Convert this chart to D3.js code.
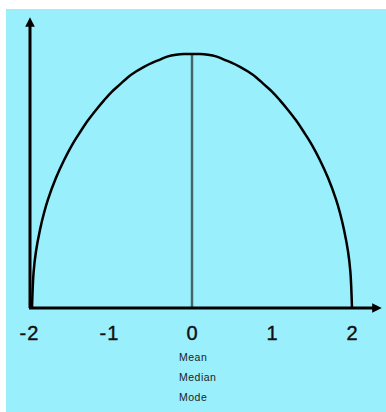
<!DOCTYPE html>
<html>
<head>
<meta charset="utf-8">
<script src="https://cdn.jsdelivr.net/npm/d3@7"></script>
<style>
  body { margin: 0; background: #fff; }
  svg { display: block; }
</style>
</head>
<body>
<svg id="chart" width="386" height="412"></svg>
<script>
// values, left half then right half
var curveX = [-2, -1.98, -1.95, -1.9, -1.85, -1.8, -1.7, -1.6, -1.5, -1.4, -1.3, -1.2, -1.1,
              -1, -0.9, -0.8, -0.7, -0.6, -0.5, -0.4, -0.3, -0.2, -0.1, 0,
              0.1, 0.2, 0.3, 0.4, 0.5, 0.6, 0.7, 0.8, 0.9, 1,
              1.1, 1.2, 1.3, 1.4, 1.5, 1.6, 1.7, 1.8, 1.85, 1.9, 1.95, 1.98, 2]
var curveY = [0, 0.045, 0.071, 0.098, 0.119, 0.136, 0.163, 0.185, 0.204, 0.220, 0.235, 0.248, 0.260,
              0.271, 0.280, 0.289, 0.296, 0.302, 0.307, 0.311, 0.315, 0.317, 0.318, 0.318,
              0.318, 0.317, 0.315, 0.311, 0.307, 0.302, 0.296, 0.289, 0.280, 0.271,
              0.260, 0.248, 0.235, 0.220, 0.204, 0.185, 0.163, 0.136, 0.119, 0.098, 0.071, 0.045, 0]
var tickValues = [-2, -1, 0, 1, 2]
var centreLabels = ["Mean", "Median", "Mode"]
var centreValue = 0

var svg = d3.select("#chart")

// light cyan panel
svg.append("rect")
    .attr("x", 6).attr("y", 9)
    .attr("width", 380).attr("height", 403)
    .attr("fill", "#9aeffc")

var x = d3.scaleLinear().domain([-2, 2]).range([32, 352])
var y = d3.scaleLinear().domain([0, 0.318]).range([308, 54])

var defs = svg.append("defs")
defs.append("marker")
    .attr("id", "arrow")
    .attr("viewBox", "0 0 10 10")
    .attr("refX", 5).attr("refY", 5)
    .attr("markerWidth", 3.2).attr("markerHeight", 3.2)
    .attr("orient", "auto")
  .append("path")
    .attr("d", "M0,0 L10,5 L0,10 z")
    .attr("fill", "#000")

// mean / median / mode line
svg.append("line")
    .attr("x1", x(centreValue)).attr("x2", x(centreValue))
    .attr("y1", y(d3.max(curveY))).attr("y2", y(0))
    .attr("stroke", "#47666b")
    .attr("stroke-width", 2.5)

// the curve
var points = curveX.map(function(d, i) { return [d, curveY[i]] })
svg.append("path")
    .datum(points)
    .attr("d", d3.line()
        .x(function(d) { return x(d[0]) })
        .y(function(d) { return y(d[1]) })
        .curve(d3.curveCatmullRom.alpha(0.5)))
    .attr("fill", "none")
    .attr("stroke", "#000")
    .attr("stroke-width", 2.5)
    .attr("stroke-linejoin", "round")

// axes with arrows
svg.append("line")
    .attr("x1", 30).attr("y1", y(0))
    .attr("x2", 30).attr("y2", 22)
    .attr("stroke", "#000").attr("stroke-width", 3)
    .attr("marker-end", "url(#arrow)")

svg.append("line")
    .attr("x1", 29).attr("y1", y(0))
    .attr("x2", 377).attr("y2", y(0))
    .attr("stroke", "#000").attr("stroke-width", 3)
    .attr("marker-end", "url(#arrow)")

// tick labels
var axis = svg.append("g")
    .attr("transform", "translate(0," + y(0) + ")")
    .call(d3.axisBottom(x).tickValues(tickValues).tickSize(0).tickPadding(0)
        .tickFormat(function(d) { return d < 0 ? "-" + Math.abs(d) : d }))
axis.select(".domain").remove()
axis.selectAll("text")
    .attr("y", 32)
    .attr("dy", 0)
    .attr("dx", function(d) { return d < 0 ? -3 : 0 })
    .attr("font-family", "Liberation Sans, Arial, sans-serif")
    .attr("font-size", 20)
    .attr("letter-spacing", 1)
    .attr("fill", "#111")
    .attr("stroke", "#111")
    .attr("stroke-width", 0.4)

// centre labels
svg.selectAll(".centre_label")
    .data(centreLabels)
    .enter()
  .append("text")
    .attr("class", "centre_label")
    .attr("x", x(centreValue) - 13)
    .attr("y", function(d, i) { return 361 + i * 20 })
    .attr("font-family", "Liberation Sans, Arial, sans-serif")
    .attr("font-size", 10.5)
    .attr("letter-spacing", 0.5)
    .attr("fill", "#222")
    .text(function(d) { return d })
</script>
</body>
</html>
